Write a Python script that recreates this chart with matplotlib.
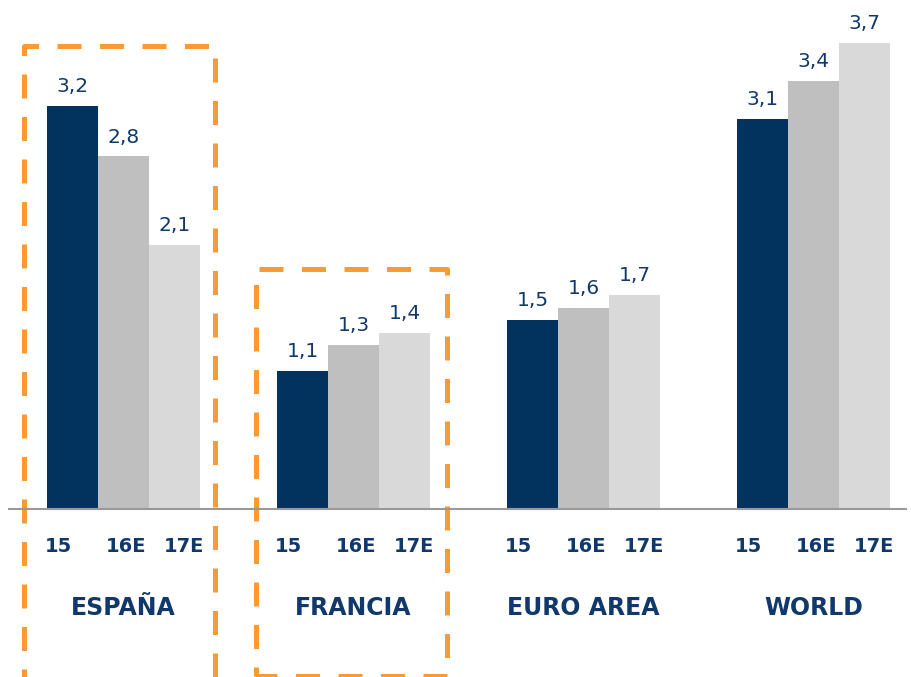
import matplotlib
matplotlib.use("Agg")
import matplotlib.pyplot as plt

# ---- data ----
groups = ["ESPAÑA", "FRANCIA", "EURO AREA", "WORLD"]
years = ["15", "16E", "17E"]
values_15 = [3.2, 1.1, 1.5, 3.1]
values_16 = [2.8, 1.3, 1.6, 3.4]
values_17 = [2.1, 1.4, 1.7, 3.7]
highlighted = ["ESPAÑA", "FRANCIA"]

# ---- style ----
navy = "#02335F"
mid_gray = "#BFBFBF"
light_gray = "#D9D9D9"
orange = "#F99B34"
text_col = "#10386A"
axis_col = "#999999"
colors = [navy, mid_gray, light_gray]

W, H, DPI = 912, 677, 100
fig = plt.figure(figsize=(W / DPI, H / DPI), dpi=DPI)
ax = fig.add_axes([0, 0, 1, 1])
ax.set_axis_off()

# pixel geometry -> data limits
px_per_x = 230.0
px_per_y = 125.9
x0_px = 123.5            # pixel x of first group centre
base_px = 509.0          # pixel y (from top) of baseline
ax.set_xlim(-x0_px / px_per_x, (W - x0_px) / px_per_x)
ax.set_ylim(-(H - base_px) / px_per_y, base_px / px_per_y)

bar_w = 51 / px_per_x
series = [values_15, values_16, values_17]
xs = range(len(groups))

for i, (vals, col) in enumerate(zip(series, colors)):
    pos = [g + (i - 1) * bar_w for g in xs]
    bars = ax.bar(pos, vals, width=bar_w, color=col, edgecolor="none", zorder=2)
    for b, v in zip(bars, vals):
        ax.annotate(f"{v:.1f}".replace(".", ","),
                    (b.get_x() + b.get_width() / 2, b.get_height()),
                    xytext=(0, 10), textcoords="offset points",
                    ha="center", va="baseline", fontsize=14.5, color=text_col,
                    family="DejaVu Sans")

# baseline
ax.plot([-115.5 / px_per_x, 783.5 / px_per_x], [0, 0], color=axis_col,
        lw=1.5, zorder=3, solid_capstyle="butt")

# year tick labels
tick_offsets = [-0.285, 0.01, 0.265]
tick_y = -43 / px_per_y
for g in xs:
    for off, yl in zip(tick_offsets, years):
        ax.text(g + off, tick_y, yl, ha="center", va="baseline",
                fontsize=14, fontweight="bold", color=text_col)

# group labels
grp_y = -106 / px_per_y
for g, name in zip(xs, groups):
    ax.text(g, grp_y, name, ha="center", va="baseline",
            fontsize=17, fontweight="bold", color=text_col)

# dashed highlight boxes
box_specs = {
    "ESPAÑA": (-99.5, 91.5, 463.0, -170.0),
    "FRANCIA": (-97.5, 93.5, 240.0, -167.0),
}
for name in highlighted:
    g = groups.index(name)
    l, r, t, b = box_specs[name]
    xl, xr = g + l / px_per_x, g + r / px_per_x
    yt, yb = t / px_per_y, b / px_per_y
    ax.plot([xl, xl, xr, xr, xl], [yb, yt, yt, yb, yb], color=orange,
            lw=3.6, linestyle=(3, (4.8, 3.7)), solid_joinstyle="round",
            dash_capstyle="butt", zorder=1, clip_on=False)

fig.savefig("out.png", dpi=DPI, facecolor="white")
